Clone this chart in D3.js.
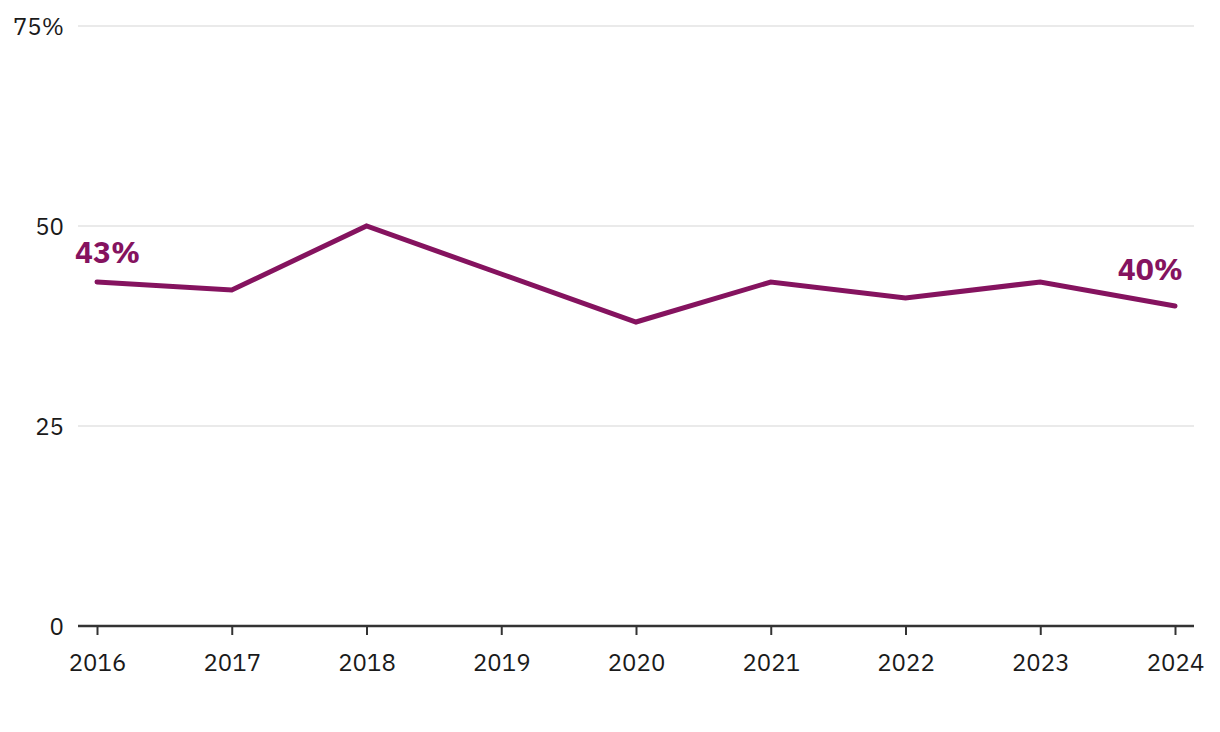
<!DOCTYPE html>
<html><head><meta charset="utf-8">
<script src="https://cdn.jsdelivr.net/npm/d3@7"></script>
<style>body{margin:0;background:#fff}svg{display:block}text{font-family:"IBM Plex Sans","Noto Sans",sans-serif}</style>
</head><body>
<svg id="c" width="1220" height="732"></svg>
<script>
const years = [2016,2017,2018,2019,2020,2021,2022,2023,2024];
const values = [43,42,50,44,38,43,41,43,40];
const yTicks = [0,25,50,75];
const yTickLabels = ["0","25","50","75%"];
const color = "#85135f";

const svg = d3.select("#c");
const x = d3.scaleLinear().domain([2016,2024]).range([97,1175]);
const y = d3.scaleLinear().domain([0,75]).range([626,26]);

// gridlines
svg.append("g").selectAll("line").data(yTicks.filter(d=>d>0)).join("line")
  .attr("x1",78).attr("x2",1194).attr("y1",d=>y(d)).attr("y2",d=>y(d))
  .attr("stroke","#e3e3e3").attr("stroke-width",1.5);

// y labels
svg.append("g").selectAll("text").data(yTicks).join("text")
  .attr("x",64).attr("y",d=>y(d)).attr("dy","0.36em").attr("text-anchor","end")
  .attr("font-size",24).attr("fill","#1a1a1a").text((d,i)=>yTickLabels[i]);

// x axis
const xAxis = d3.axisBottom(x).tickValues(years).tickFormat(d3.format("d")).tickSize(9);
const gx = svg.append("g").attr("transform",`translate(0,${y(0)})`).call(xAxis);
gx.select(".domain").attr("d","M78,0H1194").attr("stroke","#333").attr("stroke-width",2.5);
gx.selectAll(".tick line").attr("stroke","#333").attr("stroke-width",2);
gx.selectAll(".tick text").attr("y",45).attr("dy",0).attr("font-size",24).attr("fill","#1a1a1a")
  .attr("font-family",'"IBM Plex Sans","Noto Sans",sans-serif');

// line
const line = d3.line().x((d,i)=>x(years[i])).y(d=>y(d));
svg.append("path").datum(values).attr("d",line).attr("fill","none")
  .attr("stroke",color).attr("stroke-width",5).attr("stroke-linecap","round").attr("stroke-linejoin","miter");

// labels
svg.append("text").attr("x",x(years[0])-22).attr("y",y(values[0])-19)
  .attr("font-size",30).attr("font-weight","bold").attr("fill",color).text(values[0]+"%");
svg.append("text").attr("x",x(years[years.length-1])+8).attr("y",y(values[values.length-1])-26)
  .attr("text-anchor","end").attr("font-size",30).attr("font-weight","bold").attr("fill",color).text(values[values.length-1]+"%");
</script>
</body></html>
